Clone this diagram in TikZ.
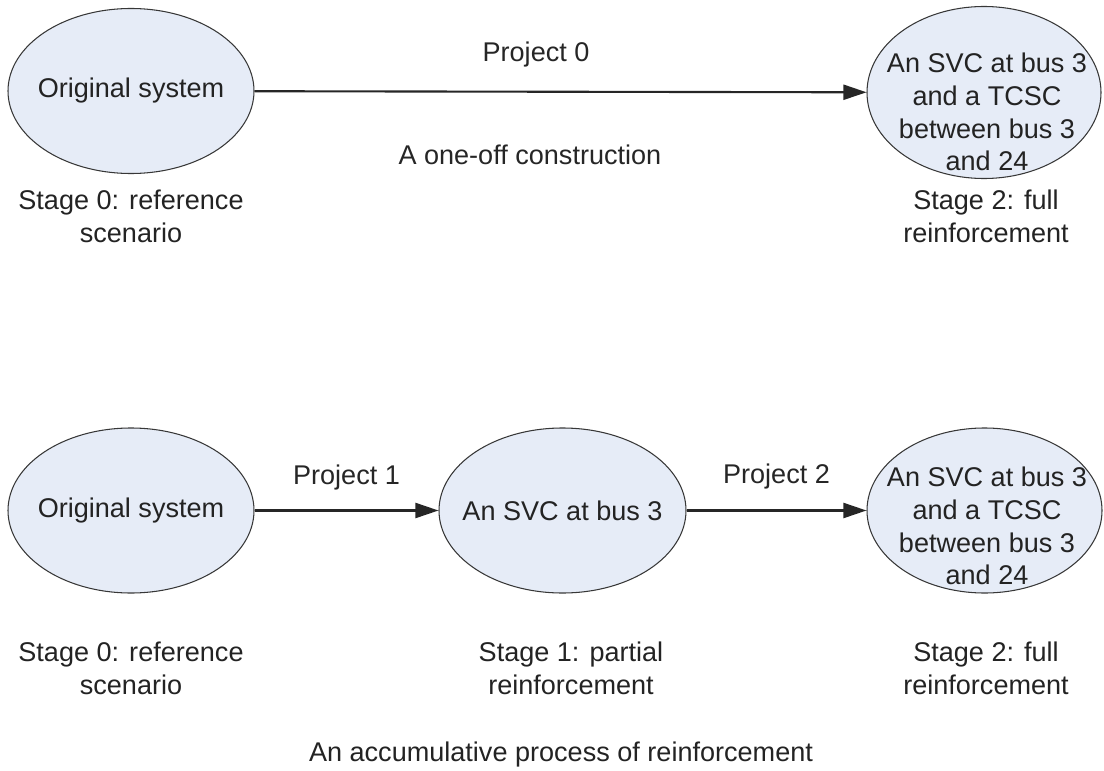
\documentclass[tikz,border=0pt]{standalone}
\usepackage{fontspec}
\setmainfont{Liberation Sans}
\usepackage{xcolor}
\usepackage{tikz}
\usetikzlibrary{shapes,arrows.meta,positioning}

\definecolor{stagefill}{RGB}{230,236,247}
\definecolor{stageedge}{RGB}{55,55,55}
\definecolor{txtgray}{RGB}{35,35,35}

\tikzset{
    stage/.style={ellipse, draw=stageedge, fill=stagefill, line width=0.6pt,
        inner xsep=-0.3cm, inner ysep=0pt, minimum width=4.92cm, minimum height=3.3cm},
    lbl/.style={align=center, inner sep=0pt},
    proj/.style={-{Triangle[length=0.46cm,width=0.3cm]}, line width=1.2pt, black!85}
}

\begin{document}
\begin{tikzpicture}[font=\fontsize{15.4}{18.6}\selectfont, text=txtgray]
    \useasboundingbox (0,0) rectangle (22.08,15.4);

    % One-off construction
    \node[stage] (orig0) at (2.62,13.58) {Original system};
    \node[stage, minimum width=4.68cm, minimum height=3.44cm] (full0) at (19.68,13.55) {};
    \node[lbl] (full0txt) at (19.74,13.16) {An SVC at bus 3\\and a TCSC\\between bus 3\\and 24};

    \draw[proj] (orig0) -- (full0)
        node[lbl, pos=0.46, above=0.48cm] (p0) {Project 0}
        node[lbl, pos=0.45, below=1.04cm] (oneoff) {A one-off construction};

    \node[lbl] (st0a) at (2.62,11.08) {Stage 0: reference\\scenario};
    \node[lbl] (st2a) at (19.72,11.08) {Stage 2: full\\reinforcement};

    % Accumulative process
    \node[stage] (orig1) at (2.62,5.19) {Original system};
    \node[stage, minimum width=4.94cm] (svc1) at (11.25,5.19) {An SVC at bus 3};
    \node[stage, minimum width=4.7cm] (full1) at (19.69,5.19) {};
    \node[lbl] (full1txt) at (19.74,4.88) {An SVC at bus 3\\and a TCSC\\between bus 3\\and 24};

    \draw[proj] (orig1) -- (svc1) node[lbl, midway, above=0.38cm] (p1) {Project 1};
    \draw[proj] (svc1) -- (full1) node[lbl, midway, above=0.4cm] (p2) {Project 2};

    \node[lbl] (st0b) at (2.62,2.04) {Stage 0: reference\\scenario};
    \node[lbl] (st1b) at (11.42,2.04) {Stage 1: partial\\reinforcement};
    \node[lbl] (st2b) at (19.72,2.04) {Stage 2: full\\reinforcement};

    \node[lbl] (accum) at (11.22,0.32) {An accumulative process of reinforcement};
\end{tikzpicture}
\end{document}
